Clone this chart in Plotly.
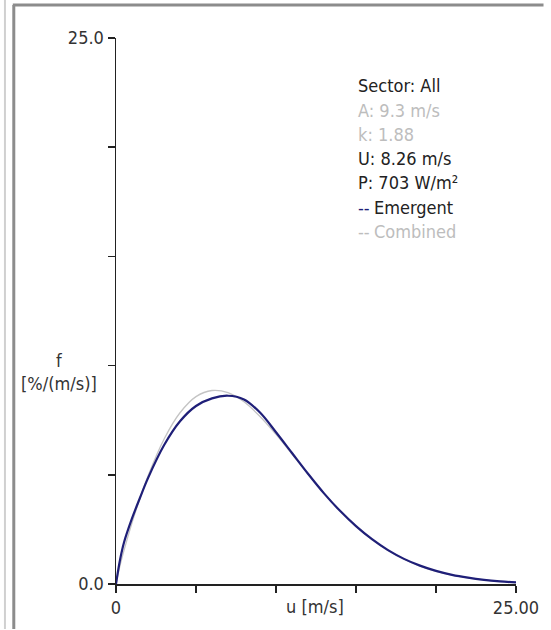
import plotly.graph_objects as go

# ---- data ----
wind_speed = [0, 0.25, 0.5, 1, 1.5, 2, 3, 4, 5, 6, 7, 8, 9, 10, 11, 12, 13,
              14, 15, 16, 17, 18, 19, 20, 21, 22, 23, 24, 25]
emergent = [0.0, 1.1, 1.9, 3.0, 3.95, 4.85, 6.35, 7.45, 8.15, 8.5, 8.62, 8.45,
            7.85, 6.95, 6.0, 5.05, 4.15, 3.35, 2.65, 2.05, 1.55, 1.15, 0.84,
            0.60, 0.42, 0.29, 0.19, 0.12, 0.07]
combined = [0.0, 0.84, 1.54, 2.80, 3.93, 4.95, 6.63, 7.84, 8.58, 8.86, 8.76,
            8.34, 7.67, 6.85, 5.95, 5.03, 4.16, 3.35, 2.64, 2.03, 1.54, 1.14,
            0.82, 0.58, 0.41, 0.28, 0.19, 0.12, 0.08]

x_ticks = [0, 5, 10, 15, 20, 25]
x_ticktext = ["0", "", "", "", "", "25.00"]
y_ticks = [0, 5, 10, 15, 20, 25]
y_ticktext = ["0.0", "", "", "", "", "25.0"]

DARK, LIGHT, NAVY = "#222222", "#bdbdbd", "#1f1f78"
legend_lines = [
    ("", "Sector: All", DARK),
    ("", "A: 9.3 m/s", LIGHT),
    ("", "k: 1.88", LIGHT),
    ("", "U: 8.26 m/s", DARK),
    ("", "P: 703 W/m²", DARK),
    (NAVY, "Emergent", DARK),
    (LIGHT, "Combined", LIGHT),
]

# ---- layout geometry ----
W, H = 551, 630
L, R, T, B = 116, 523, 38, 585
FONT = "DejaVu Sans Condensed"


def px(x):
    return (x - L) / (R - L)


def py(y):
    return (B - y) / (B - T)


fig = go.Figure()
fig.add_trace(go.Scatter(x=wind_speed, y=combined, mode="lines",
                         line=dict(color="#c4c4c4", width=1.3, shape="spline"),
                         hoverinfo="skip", showlegend=False))
fig.add_trace(go.Scatter(x=wind_speed, y=emergent, mode="lines",
                         line=dict(color=NAVY, width=2.2, shape="spline"),
                         hoverinfo="skip", showlegend=False))

axis_common = dict(showgrid=False, zeroline=False, showline=True,
                   linecolor="#222222", linewidth=1.5, ticks="outside",
                   ticklen=7, tickwidth=1.5, tickcolor="#222222",
                   tickfont=dict(family=FONT, size=18, color="#333333"),
                   fixedrange=True)

fig.update_layout(
    width=W, height=H,
    margin=dict(l=L, r=W - R, t=T, b=H - B, pad=0),
    paper_bgcolor="white", plot_bgcolor="white",
    font=dict(family=FONT, size=18, color="#333333"),
    xaxis=dict(range=[0, 25], tickvals=x_ticks, ticktext=x_ticktext,
               **axis_common),
    yaxis=dict(range=[0, 25], tickvals=y_ticks, ticktext=y_ticktext,
               **axis_common),
)

annotations = [
    dict(text="u [m/s]", x=px(318), y=py(608), xref="paper", yref="paper",
         showarrow=False, xanchor="center", yanchor="middle",
         font=dict(family=FONT, size=18, color="#333333")),
    dict(text="f<br>[%/(m/s)]", x=px(58), y=py(373), xref="paper",
         yref="paper", showarrow=False, xanchor="center", yanchor="middle",
         font=dict(family=FONT, size=18, color="#333333")),
]
for i, (dash_col, txt, col) in enumerate(legend_lines):
    yy = py(86 + i * 24.3)
    if dash_col:
        annotations.append(dict(text="--", x=px(360), y=yy, xref="paper",
                                yref="paper", showarrow=False,
                                xanchor="left", yanchor="middle",
                                font=dict(family=FONT, size=18,
                                          color=dash_col)))
        annotations.append(dict(text=txt, x=px(376), y=yy, xref="paper",
                                yref="paper", showarrow=False,
                                xanchor="left", yanchor="middle",
                                font=dict(family=FONT, size=18, color=col)))
    else:
        annotations.append(dict(text=txt, x=px(360), y=yy, xref="paper",
                                yref="paper", showarrow=False,
                                xanchor="left", yanchor="middle",
                                font=dict(family=FONT, size=18, color=col)))
fig.update_layout(annotations=annotations)

# window frame lines
shapes = [
    dict(type="line", xref="paper", yref="paper", x0=px(3), x1=px(3),
         y0=py(0), y1=py(630), line=dict(color="#d0d0d0", width=2)),
    dict(type="line", xref="paper", yref="paper", x0=px(12), x1=px(12),
         y0=py(5), y1=py(630), line=dict(color="#8c8c8c", width=3)),
    dict(type="line", xref="paper", yref="paper", x0=px(11), x1=px(551),
         y0=py(5), y1=py(5), line=dict(color="#8c8c8c", width=3)),
]
fig.update_layout(shapes=shapes)

fig.write_html("out.html",
               config={"displayModeBar": False, "staticPlot": True},
               post_script="document.body.style.margin='0';"
                           "document.body.style.overflow='hidden';")
